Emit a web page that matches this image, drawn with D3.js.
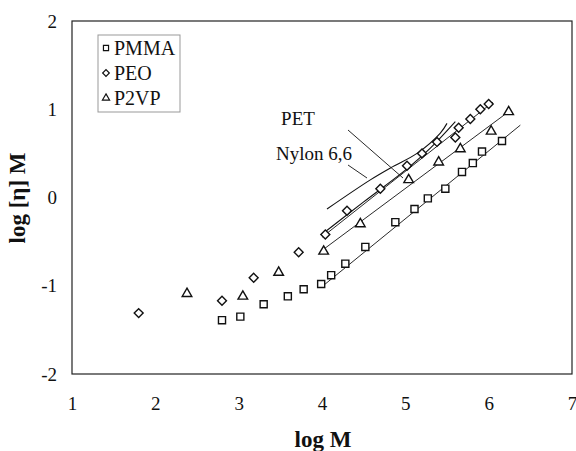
<!DOCTYPE html>
<html>
<head>
<meta charset="utf-8">
<script src="https://cdn.jsdelivr.net/npm/d3@7"></script>
<style>
  body { margin: 0; background: #fff; }
  svg text { font-family: "Liberation Serif", "Times New Roman", serif; fill: #111; }
</style>
</head>
<body>
<svg id="chart" width="576" height="451"></svg>
<script>
// data: [log M, log [eta] M]
const pmma = [[2.80,-1.39],[3.02,-1.35],[3.30,-1.21],[3.59,-1.12],[3.78,-1.04],[3.99,-0.98],
  [4.11,-0.88],[4.28,-0.75],[4.52,-0.56],[4.88,-0.28],[5.11,-0.13],[5.27,-0.01],[5.48,0.10],
  [5.68,0.29],[5.81,0.39],[5.92,0.52],[6.16,0.64]];
const peo = [[1.80,-1.31],[2.80,-1.17],[3.18,-0.91],[3.72,-0.62],[4.04,-0.42],[4.30,-0.15],
  [4.70,0.10],[5.02,0.36],[5.20,0.50],[5.38,0.63],[5.60,0.68],[5.64,0.79],[5.78,0.89],
  [5.90,1.00],[6.00,1.06]];
const p2vp = [[2.38,-1.09],[3.05,-1.12],[3.48,-0.85],[4.02,-0.61],[4.46,-0.30],[5.04,0.20],
  [5.40,0.40],[5.66,0.55],[6.03,0.75],[6.24,0.97]];

// fitted lines and literature curves
const pmmaFit = [[4.00,-1.01],[6.38,0.82]];
const peoFit = [[4.00,-0.45],[6.05,1.08]];
const p2vpFit = [[4.00,-0.60],[6.25,0.98]];
const nylon = [[4.06,-0.13],[4.58,0.20],[4.85,0.35],[5.14,0.50],[5.42,0.73],[5.50,0.84]];
const pet = [[4.05,-0.38],[4.50,-0.05],[5.00,0.31],[5.30,0.56],[5.60,0.86]];

const xTicks = [1,2,3,4,5,6,7];
const yTicks = [-2,-1,0,1,2];
const legendNames = ["PMMA","PEO","P2VP"];

const svg = d3.select("#chart");
const x = d3.scaleLinear().domain([1,7]).range([72,572]);
const y = d3.scaleLinear().domain([-2,2]).range([374,21]);

// frame
svg.append("rect")
  .attr("x", x(1)).attr("y", y(2))
  .attr("width", x(7)-x(1)).attr("height", y(-2)-y(2))
  .attr("fill","none").attr("stroke","#222").attr("stroke-width",1.2);

const xAxis = svg.append("g")
  .attr("transform","translate(0,"+y(-2)+")")
  .call(d3.axisBottom(x).tickValues(xTicks).tickSize(0).tickPadding(23).tickFormat(d => String(d)));
const yAxis = svg.append("g")
  .attr("transform","translate("+x(1)+",0)")
  .call(d3.axisLeft(y).tickValues(yTicks).tickSize(0).tickPadding(15).tickFormat(d => String(d)));
[xAxis, yAxis].forEach(function(g) {
  g.select(".domain").remove();
  g.selectAll("text").style("font-size","19px")
    .style("font-family","'Liberation Serif', serif").attr("fill","#111");
});

svg.append("text").attr("x",323).attr("y",447).attr("text-anchor","middle")
  .style("font-size","23px").style("font-weight","bold").text("log M");
svg.append("text").attr("transform","translate(25,198) rotate(-90)").attr("text-anchor","middle")
  .style("font-size","23px").style("font-weight","bold").text("log [η] M");

const line = d3.line().x(d => x(d[0])).y(d => y(d[1]));
const curve = d3.line().x(d => x(d[0])).y(d => y(d[1])).curve(d3.curveCatmullRom);

[pmmaFit, peoFit, p2vpFit].forEach(function(d) {
  svg.append("path").attr("d", line(d)).attr("fill","none").attr("stroke","#111").attr("stroke-width",0.9);
});
[nylon, pet].forEach(function(d) {
  svg.append("path").attr("d", curve(d)).attr("fill","none").attr("stroke","#111").attr("stroke-width",1.1);
});

// markers
const sq = d3.symbol().type(d3.symbolSquare).size(50);
const di = d3.symbol().type(d3.symbolSquare).size(40);
const tr = d3.symbol().type(d3.symbolTriangle).size(40);

function drawPoints(data, sym, rot) {
  svg.append("g").selectAll("path").data(data).join("path")
    .attr("transform", d => "translate("+x(d[0])+","+y(d[1])+") rotate("+rot+")")
    .attr("d", sym())
    .attr("fill","#fff").attr("stroke","#111").attr("stroke-width",1.4);
}
drawPoints(pmma, sq, 0);
drawPoints(peo, di, 45);
drawPoints(p2vp, tr, 0);

// annotations
svg.append("text").attr("x",298).attr("y",125).attr("text-anchor","middle")
  .style("font-size","19px").text("PET");
svg.append("text").attr("x",314).attr("y",160).attr("text-anchor","middle")
  .style("font-size","19px").text("Nylon 6,6");
svg.append("line").attr("x1",348).attr("y1",130).attr("x2",403).attr("y2",178)
  .attr("stroke","#111").attr("stroke-width",0.9);
svg.append("line").attr("x1",348).attr("y1",165).attr("x2",367).attr("y2",178)
  .attr("stroke","#111").attr("stroke-width",0.9);

// legend
const lg = svg.append("g");
lg.append("rect").attr("x",98).attr("y",35).attr("width",82).attr("height",77)
  .attr("fill","#fff").attr("stroke","#999").attr("stroke-width",1);
const legendSyms = [[d3.symbolSquare,26,0],[d3.symbolSquare,22,45],[d3.symbolTriangle,22,0]];
legendNames.forEach(function(name, i) {
  const cy = 48 + i*25;
  lg.append("path").attr("transform","translate(106,"+cy+") rotate("+legendSyms[i][2]+")")
    .attr("d", d3.symbol().type(legendSyms[i][0]).size(legendSyms[i][1])())
    .attr("fill","#fff").attr("stroke","#111").attr("stroke-width",1.2);
  lg.append("text").attr("x",114).attr("y",cy+7).style("font-size","20px").text(name);
});
</script>
</body>
</html>
